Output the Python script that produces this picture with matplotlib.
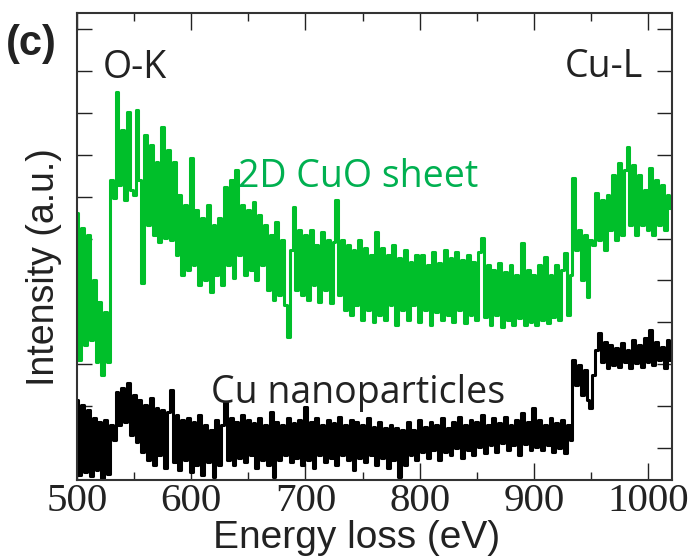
import numpy as np
import matplotlib.pyplot as plt

# Energy-loss channels (eV)
energy = np.arange(500, 1025, 2.5)

# EELS intensity of the 2D CuO sheet, one row per 25 eV
cuo_sheet = [
    267, 120, 252, 135, 245, 140, 200, 118, 178, 105,
    168, 118, 300, 282, 388, 295, 350, 280, 368, 290,
    285, 370, 300, 197, 345, 255, 335, 245, 318, 238,
    353, 242, 330, 240, 318, 225, 285, 205, 275, 210,
    322, 215, 270, 195, 262, 200, 275, 188, 255, 205,
    262, 195, 293, 215, 300, 202, 310, 225, 275, 205,
    270, 210, 278, 200, 265, 215, 255, 190, 245, 180,
    258, 185, 240, 175, 143, 230, 273, 190, 250, 185,
    245, 180, 250, 195, 235, 178, 248, 190, 240, 177,
    238, 280, 185, 240, 170, 235, 165, 230, 175, 240,
    160, 232, 170, 225, 158, 248, 165, 232, 160, 225,
    175, 235, 155, 222, 170, 230, 160, 218, 175, 225,
    158, 225, 170, 215, 155, 228, 168, 217, 160, 230,
    165, 222, 158, 228, 170, 220, 157, 225, 165, 218,
    160, 228, 242, 163, 215, 155, 210, 165, 217, 153,
    208, 160, 215, 155, 205, 162, 237, 155, 210, 158,
    205, 155, 215, 160, 223, 157, 205, 163, 215, 160,
    210, 227, 165, 205, 302, 230, 250, 200, 245, 183,
    240, 235, 287, 240, 280, 230, 285, 250, 305, 240,
    317, 245, 310, 333, 255, 315, 245, 305, 255, 290,
    250, 312, 245, 300, 255, 295, 250, 285, 272, 270,
]

# EELS intensity of the Cu nanoparticles, one row per 25 eV
cu_nanoparticles = [
    80, 5, 75, 8, 70, 4, 62, 10, 58, 2,
    60, 6, 55, 40, 88, 55, 92, 58, 97, 45,
    85, 38, 80, 28, 75, 20, 82, 15, 72, 25,
    70, 12, 68, 90, 18, 65, 10, 60, 20, 62,
    8, 58, 15, 65, 5, 55, 18, 50, 3, 60,
    15, 55, 78, 20, 62, 15, 58, 22, 65, 18,
    60, 25, 57, 12, 62, 20, 55, 15, 68, 3,
    58, 20, 55, 25, 62, 18, 57, 22, 60, 15,
    73, 20, 58, 12, 62, 25, 55, 18, 60, 22,
    57, 15, 63, 25, 55, 20, 60, 10, 58, 22,
    55, 18, 62, 25, 53, 15, 58, 22, 52, 12,
    55, 20, 52, 3, 50, 15, 58, 25, 50, 20,
    60, 28, 53, 22, 58, 30, 55, 20, 62, 28,
    52, 25, 58, 32, 63, 22, 55, 30, 60, 25,
    58, 33, 65, 27, 55, 35, 62, 28, 57, 37,
    63, 30, 55, 35, 60, 25, 67, 36, 58, 30,
    72, 33, 60, 30, 55, 35, 62, 28, 57, 32,
    60, 27, 55, 40, 120, 95, 115, 85, 110, 80,
    72, 105, 130, 147, 118, 138, 112, 135, 115, 132,
    113, 137, 118, 130, 112, 140, 117, 135, 113, 142,
    118, 150, 115, 138, 120, 133, 112, 140, 120, 125,
]

plt.rcParams['font.family'] = ['Open Sans', 'DejaVu Sans']

W, H = 696, 560
fig = plt.figure(figsize=(W / 100, H / 100), dpi=100)
ax = fig.add_axes([77 / W, 80 / H, 595 / W, 467 / H])

# Spectra, drawn as channel steps
ax.plot(energy, cuo_sheet, color='#00bf2a', lw=2.2, drawstyle='steps-mid')
ax.plot(energy, cu_nanoparticles, color='black', lw=2.2, drawstyle='steps-mid')

# Axes limits and ticks
ax.set_xlim(500, 1021)
ax.set_ylim(0, 467)
ax.set_xticks(np.arange(500, 1001, 100))
ax.set_xticks(np.arange(550, 1021, 100), minor=True)
ax.set_yticks(32 + 41.9 * np.arange(11))
ax.set_yticklabels([])
ax.tick_params(which='both', direction='in', top=True, right=True,
               width=1.0, color='#222222', pad=2)
ax.tick_params(axis='x', which='major', length=12)
ax.tick_params(axis='x', which='minor', length=6)
ax.tick_params(axis='y', which='major', length=11)
for lab in ax.get_xticklabels():
    lab.set_fontfamily('Liberation Serif')
    lab.set_fontsize(29.5)
    lab.set_color('#222222')
for sp in ax.spines.values():
    sp.set_linewidth(1.5)
    sp.set_color('#333333')

# Axis labels
fig.text(357 / W, 1 - 548 / H, 'Energy loss (eV)', family='Liberation Sans',
         fontsize=28, ha='center', va='baseline', color='#222222')
fig.text(44 / W, 1 - 267 / H, 'Intensity (a.u.)', family='Liberation Sans',
         fontsize=27, ha='center', va='center', rotation=90, color='#222222')

# Panel letter and annotations
fig.text(6 / W, 1 - 55 / H, '(c)', family='Liberation Sans', weight='bold',
         fontsize=30, ha='left', va='baseline', color='#222222')
fig.text(103 / W, 1 - 78 / H, 'O-K', fontsize=27, ha='left', va='baseline',
         color='#222222')
fig.text(643 / W, 1 - 77 / H, 'Cu-L', fontsize=27, ha='right', va='baseline',
         color='#222222')
fig.text(238 / W, 1 - 187 / H, '2D CuO sheet', fontsize=27, ha='left',
         va='baseline', color='#00b050')
fig.text(211 / W, 1 - 403 / H, 'Cu nanoparticles', fontsize=27, ha='left',
         va='baseline', color='#222222')

fig.savefig('out.png', dpi=100)
